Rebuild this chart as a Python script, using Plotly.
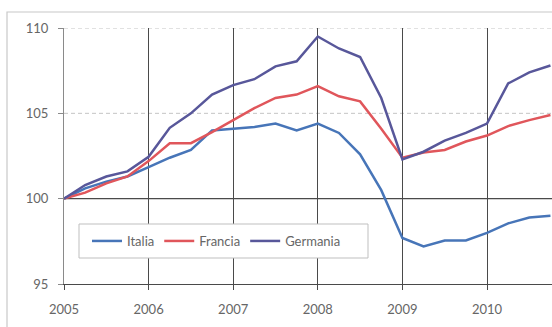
import plotly.graph_objects as go

# Quarterly industrial production index (2005 = 100), 2005Q1 .. 2010Q4
quarters = [2005 + i * 0.25 for i in range(24)]
italia = [100.0, 100.6, 101.0, 101.3, 101.85, 102.4, 102.85, 104.0,
          104.1, 104.2, 104.4, 104.0, 104.4, 103.85, 102.6, 100.5,
          97.7, 97.2, 97.55, 97.55, 98.0, 98.55, 98.9, 99.0]
francia = [100.0, 100.35, 100.9, 101.3, 102.2, 103.25, 103.25, 103.9,
           104.6, 105.3, 105.9, 106.1, 106.6, 106.0, 105.7, 104.1,
           102.4, 102.7, 102.85, 103.35, 103.7, 104.25, 104.6, 104.9]
germania = [100.0, 100.8, 101.3, 101.6, 102.45, 104.15, 105.0, 106.1,
            106.65, 107.0, 107.75, 108.05, 109.5, 108.8, 108.3, 105.9,
            102.3, 102.75, 103.4, 103.85, 104.4, 106.75, 107.4, 107.8]

year_ticks = [2005, 2006, 2007, 2008, 2009, 2010]
y_ticks = [95, 100, 105, 110]
baseline = 100

series = [
    ("Italia", italia, "#4775b8"),
    ("Francia", francia, "#e0565b"),
    ("Germania", germania, "#58579a"),
]

W, H = 552, 327
L, R, T, B = 64, 0, 28, 43
pw, ph = W - L - R, H - T - B

def px_x(p):
    return (p - L) / pw

def px_y(p):
    return 1 - (p - T) / ph

fig = go.Figure()
for name, vals, col in series:
    fig.add_trace(go.Scatter(
        x=quarters, y=vals, mode="lines", name=name,
        line=dict(color=col, width=2.5),
    ))

label_font = dict(family="Lato, Open Sans, sans-serif", size=13, color="#666666")

# horizontal guides: solid at the base value, dashed above it
guides = []
for v in y_ticks[1:]:
    if v == baseline:
        ln = dict(color="#4a4a4a", width=1.2)
    else:
        ln = dict(color="#c4c4c4", width=1, dash="4px,3px")
    guides.append(dict(type="line", xref="paper", yref="y", x0=0, x1=1,
                       y0=v, y1=v, line=ln, layer="below"))

fig.update_layout(
    width=W, height=H,
    margin=dict(l=L, r=R, t=T, b=B),
    paper_bgcolor="white", plot_bgcolor="white",
    font=label_font,
    showlegend=True,
    legend=dict(
        orientation="h", x=px_x(87), y=px_y(241), xanchor="left", yanchor="middle",
        bgcolor="rgba(0,0,0,0)", borderwidth=0,
        font=label_font, itemwidth=30,
    ),
    xaxis=dict(
        range=[2005, 2005 + pw / 84.6], tickvals=year_ticks,
        ticktext=[str(y) for y in year_ticks],
        showgrid=True, gridcolor="#4a4a4a", gridwidth=1.2,
        showline=True, linecolor="#4a4a4a", linewidth=1.2,
        ticks="outside", ticklen=5, tickcolor="#4a4a4a",
        ticklabelstandoff=8, zeroline=False,
    ),
    yaxis=dict(
        range=[95, 110], tickvals=y_ticks,
        showgrid=False,
        showline=True, linecolor="#8a8a8a", linewidth=1.2,
        ticks="outside", ticklen=5, tickcolor="#8a8a8a",
        ticklabelstandoff=7, zeroline=False,
    ),
    shapes=guides + [
        # outer chart frame
        dict(type="rect", xref="paper", yref="paper",
             x0=px_x(7), x1=px_x(W + 20), y0=px_y(H + 20), y1=px_y(12),
             line=dict(color="#c8c8c8", width=1.2), fillcolor="rgba(0,0,0,0)"),
        # legend box
        dict(type="rect", xref="paper", yref="paper",
             x0=px_x(79), x1=px_x(368), y0=px_y(258), y1=px_y(224),
             line=dict(color="#bfbfbf", width=1), fillcolor="white", layer="above"),
    ],
)

fig.write_html("out.html")
